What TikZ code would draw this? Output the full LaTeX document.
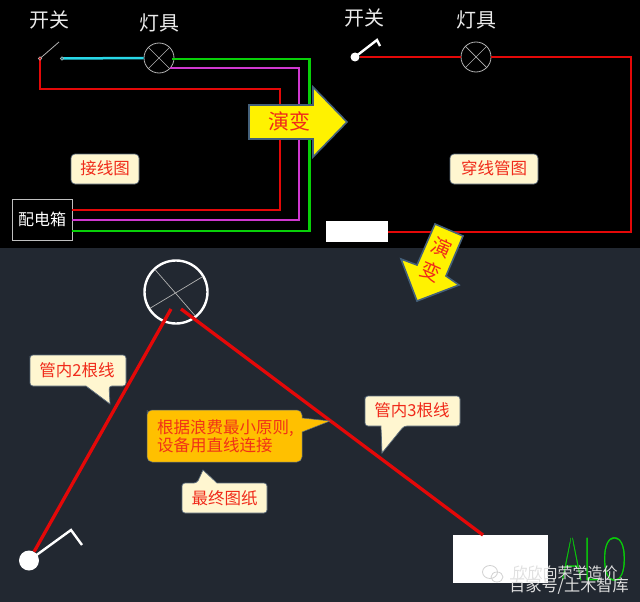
\documentclass[tikz,border=0pt]{standalone}
\usepackage{fontspec}
\setmainfont{Noto Sans CJK SC}
\newfontfamily\latinthin{Liberation Sans}
\usetikzlibrary{calc}
\definecolor{slatebg}{HTML}{222831}
\definecolor{wirered}{HTML}{E40808}
\definecolor{wiregreen}{HTML}{08D008}
\definecolor{wirepurple}{HTML}{D038D0}
\definecolor{wirecyan}{HTML}{28D8E8}
\definecolor{notefill}{HTML}{FFF6D0}
\definecolor{noteedge}{HTML}{5A6A7A}
\definecolor{textred}{HTML}{F02A1A}
\definecolor{arrowedge}{HTML}{44607A}
\definecolor{orangefill}{HTML}{FFC000}
\newcommand{\fs}[1]{\fontsize{#1}{#1}\selectfont}
\tikzset{
  x=1pt,y=-1pt,
  wire/.style={line width=2.5pt,draw=#1,line join=miter},
  title/.style={text=white!92!black,font=\fs{20},inner sep=0pt},
  lampnode/.style={circle,draw=white!70!black,line width=.8pt,minimum size=30pt,inner sep=0pt},
  lampcross/.style={draw=white!70!black,line width=.7pt},
  whitebox/.style={fill=white,draw=none,inner sep=0pt},
  redtext/.style={text=textred,font=\fs{16.5},inner sep=0pt},
  notebox/.style={fill=notefill,draw=noteedge,line width=.7pt},
  bigarrow/.style={fill=yellow,draw=arrowedge,line width=1.6pt,line join=miter},
  lever/.style={draw=white,line width=2.4pt,line join=miter},
  dot/.style={circle,fill=white,draw=none,inner sep=0pt,minimum size=#1},
}
\begin{document}
\begin{tikzpicture}
\useasboundingbox (0,0) rectangle (640,602);
\fill[slatebg] (0,0) rectangle (640,602);
\fill[black] (0,0) rectangle (640,248);

% ---- wiring diagram (left)
\node[title] (t1) at (49,20) {开关};
\node[title] (t2) at (159,23) {灯具};
\node[lampnode] (lampA) at (159,58) {};
\draw[lampcross] (lampA.45) -- (lampA.225) (lampA.135) -- (lampA.315);
\node[draw=white!75!black,line width=.8pt,text=white,font=\fs{16},minimum width=60pt,minimum height=41pt,inner sep=0pt] (boxA) at (42,219.5) {配电箱};
\coordinate (swL) at (40,58.5);
\coordinate (swR) at (62,58.5);
\coordinate (swTip) at (59,42);
\coordinate (gA) at (172,59);   \coordinate (gB) at (309.5,59);  \coordinate (gC) at (309.5,231);
\coordinate (pA) at (170,68);   \coordinate (pB) at (299,68);    \coordinate (pC) at (299,220);
\coordinate (rB) at (40,89);    \coordinate (rC) at (280,89);    \coordinate (rD) at (280,210);
\draw[wire=wirecyan] (swR) -- (lampA.west);
\draw[wire=wiregreen] (gA) -- (gB) -- (gC) -- (boxA.east |- gC);
\draw[wire=wirepurple] (pA) -- (pB) -- (pC) -- (boxA.east |- pC);
\draw[wire=wirered] (swL) -- (rB) -- (rC) -- (rD) -- (boxA.east |- rD);
\draw[white!70!black,line width=.8pt] (swL) -- (swTip);
\draw[white!70!black,fill=wirered,line width=.6pt] (swL) circle (1.8);
\draw[white!70!black,fill=wirecyan!60!black,line width=.6pt] (swR) circle (1.8);
\draw[notebox,rounded corners=4] (71,154) rectangle (139,184);
\node[redtext] (lab1) at (105,168.5) {接线图};

% ---- conduit diagram (right)
\node[title] (t3) at (364,18) {开关};
\node[title] (t4) at (476,20) {灯具};
\node[lampnode] (lampB) at (476,57) {};
\draw[lampcross] (lampB.45) -- (lampB.225) (lampB.135) -- (lampB.315);
\node[dot=9pt] (swB) at (355,57) {};
\coordinate (levB1) at (377,40);
\coordinate (levB2) at (380,46);
\draw[lever] (swB.center) -- (levB1) -- (levB2);
\node[whitebox,minimum width=62pt,minimum height=21pt] (boxB) at (357,231) {};
\coordinate (cA) at (631,57);
\coordinate (cB) at (631,232);
\draw[wire=wirered] (swB) -- (lampB.west);
\draw[wire=wirered] (lampB.east) -- (cA) -- (cB) -- (boxB.east |- cB);
\draw[notebox,rounded corners=4] (450,154) rectangle (538,184);
\node[redtext] (lab2) at (494,168.5) {穿线管图};

% ---- big arrows
\draw[bigarrow] (249,105) -- (313,105) -- (313,87) -- (347,122) -- (313,157) -- (313,139) -- (249,139) -- cycle;
\node[redtext,font=\fs{21}] (ev1) at (289.5,121.5) {演变};
\draw[bigarrow] (435,224) -- (463,236) -- (446,276) -- (459,285) -- (417,301) -- (401,259) -- (417,265) -- cycle;
\node[redtext,font=\fs{20},rotate=-24] (ev2a) at (442,248) {演};
\node[redtext,font=\fs{20},rotate=-24] (ev2b) at (431,272) {变};

% ---- final drawing
\node[circle,draw=white,line width=2.4pt,minimum size=63pt,inner sep=0pt] (lampC) at (176,292) {};
\draw[lampcross,shorten >=2pt,shorten <=2pt] (lampC.133) -- (lampC.-51);
\draw[lampcross,shorten >=2pt,shorten <=2pt] (lampC.30) -- (lampC.212);
\node[dot=20pt] (swC) at (29,560.5) {};
\coordinate (levC1) at (71,530);
\coordinate (levC2) at (82,545);
\draw[lever] (swC.center) -- (levC1) -- (levC2);
\coordinate (lampIn1) at (171,309);
\coordinate (lampIn2) at (181,309);
\node[whitebox,minimum width=95pt,minimum height=48pt] (boxC) at (500.5,559) {};
\coordinate (boxTop) at (483,535);
\draw[line width=3.3pt,draw=wirered] (lampIn1) -- (swC.60);
\draw[line width=3.3pt,draw=wirered] (lampIn2) -- (boxTop);

% ---- callouts
\draw[notebox] (30,359) [rounded corners=3] -- (30,355) -- (126,355) -- (126,386) -- (109,386) [sharp corners] -- (110,404) -- (86,386) [rounded corners=3] -- (30,386) -- cycle;
\node[redtext] (lab3) at (77,370.5) {管内2根线};
\draw[notebox] (365,400) [rounded corners=3] -- (365,396) -- (460,396) -- (460,426) -- (404,426) [sharp corners] -- (382,453) -- (381,426) [rounded corners=3] -- (365,426) -- cycle;
\node[redtext] (lab4) at (412,410.5) {管内3根线};
\draw[fill=orangefill,draw=noteedge,line width=.5pt] (147,415) [rounded corners=5] -- (147,410) -- (302,410) [sharp corners] -- (302,418) -- (330,421) -- (302,432) [rounded corners=5] -- (302,462) -- (147,462) -- cycle;
\node[redtext,align=left,anchor=west,text=textred!90!orange] (lab5) at (157,436.5) {\fs{16.5}\baselineskip=19pt 根据浪费最小原则,\\设备用直线连接};
\draw[notebox] (182,488) [rounded corners=3] -- (182,483) -- (197,483) [sharp corners] -- (203,470) -- (217,483) [rounded corners=3] -- (267,483) -- (267,513) -- (182,513) -- cycle;
\node[redtext] (lab6) at (224.5,498.5) {最终图纸};

% ---- ALO lettering
\node[inner sep=0pt,text=wiregreen,font=\latinthin\fontsize{67}{67}\selectfont] (alo) at (594,559)
  {\special{pdf:literal direct q 2 Tr 3.4 w 0.133 0.157 0.192 RG}\scalebox{.5}[1]{ALO}\special{pdf:literal direct Q}};

% ---- watermark
\draw[white!82!black,line width=.8pt] (490,572) ellipse (7.5 and 6.5);
\draw[white!82!black,line width=.8pt] (497,577) ellipse (6 and 5);
\node[text=white!88!black,font=\fs{15},inner sep=0pt] (wm1) at (565,573) {欣欣向荣学造价};
\node[text=white!88!black,font=\fs{16.2},inner sep=0pt] (wm2) at (569,586) {百家号/土木智库};
\end{tikzpicture}
\end{document}
